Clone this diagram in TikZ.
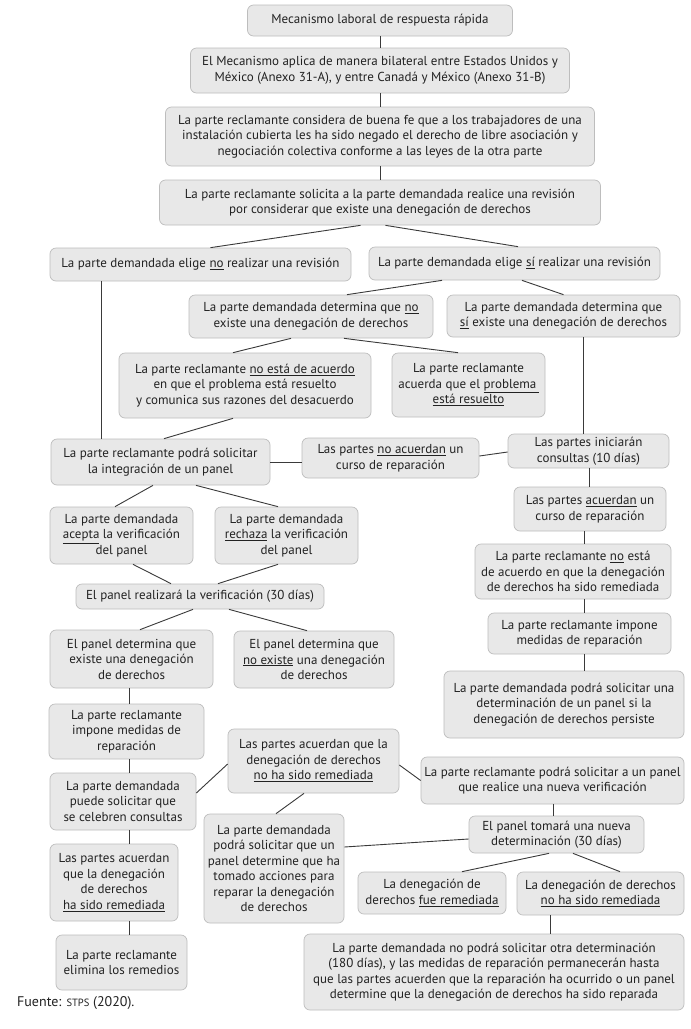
\documentclass[tikz,border=0pt]{standalone}
\usepackage{fontspec}
\setmainfont{PT Sans}
\definecolor{boxfill}{HTML}{E8E8E8}
\definecolor{boxdraw}{HTML}{BDBDBD}
\definecolor{lncol}{HTML}{3A3A3A}
\definecolor{txt}{HTML}{222222}
\newcommand{\ul}[1]{\underline{#1}}
\begin{document}
\begin{tikzpicture}[x=1pt,y=-1pt,
  bx/.style={draw=boxdraw, fill=boxfill, rounded corners=6pt, align=center, inner sep=0pt,
    font=\fontsize{13}{15.5}\selectfont, text=txt, line width=0.7pt},
  ln/.style={draw=lncol, line width=0.9pt}]
\useasboundingbox (0,0) rectangle (691,1029);
\fill[white] (0,0) rectangle (691,1029);

% top chain
\node[bx, minimum width=265pt, minimum height=31pt] (n1) at (380,20.5) {Mecanismo laboral de respuesta rápida};
\node[bx, minimum width=379pt, minimum height=45pt] (n2) at (380,70.5) {El Mecanismo aplica de manera bilateral entre Estados Unidos y\\México (Anexo 31-A), y entre Canadá y México (Anexo 31-B)};
\node[bx, minimum width=429pt, minimum height=59pt] (n3) at (380,136.5) {La parte reclamante considera de buena fe que a los trabajadores de una\\instalación cubierta les ha sido negado el derecho de libre asociación y\\negociación colectiva conforme a las leyes de la otra parte};
\node[bx, minimum width=441pt, minimum height=45pt] (n4) at (380,202.5) {La parte reclamante solicita a la parte demandada realice una revisión\\por considerar que existe una denegación de derechos};

\node[bx, minimum width=301pt, minimum height=33pt] (elno) at (200.5,264.5) {La parte demandada elige \ul{no} realizar una revisión};
\node[bx, minimum width=291pt, minimum height=33pt] (elsi) at (514.5,263.5) {La parte demandada elige \ul{sí} realizar una revisión};
\node[bx, minimum width=244pt, minimum height=43pt] (detno) at (311,316.5) {La parte demandada determina que \ul{no}\\existe una denegación de derechos};
\node[bx, minimum width=233pt, minimum height=42pt] (detsi) at (563.5,316) {La parte demandada determina que\\\ul{sí} existe una denegación de derechos};
\node[bx, minimum width=252pt, minimum height=65pt] (noacu) at (245,385.5) {La parte reclamante \ul{no está de acuerdo}\\en que el problema está resuelto\\y comunica sus razones del desacuerdo};
\node[bx, minimum width=153pt, minimum height=64pt] (resuelto) at (468.5,385) {La parte reclamante\\acuerda que el \ul{problema\,}\\\ul{está resuelto}};

\node[bx, minimum width=219pt, minimum height=46pt] (panel1) at (160.5,462) {La parte reclamante podrá solicitar\\la integración de un panel};
\node[bx, minimum width=177pt, minimum height=40pt] (noacuerdan) at (390.5,458) {Las partes \ul{no acuerdan} un\\curso de reparación};
\node[bx, minimum width=161pt, minimum height=34pt] (consultas) at (588.5,451) {Las partes iniciarán\\consultas (10 días)};

% right column
\node[bx, minimum width=152pt, minimum height=44pt] (acuerdan) at (590,509) {Las partes \ul{acuerdan} un\\curso de reparación};
\node[bx, minimum width=196pt, minimum height=55pt] (nodeacuerdo) at (573,571.5) {La parte reclamante \ul{no} está\\de acuerdo en que la denegación\\de derechos ha sido remediada};
\node[bx, minimum width=183pt, minimum height=41pt] (imponeR) at (579.5,633.5) {La parte reclamante impone\\medidas de reparación};
\node[bx, minimum width=240pt, minimum height=67pt] (solpanelR) at (564,704.5) {La parte demandada podrá solicitar una\\determinación de un panel si la\\denegación de derechos persiste};

% left column
\node[bx, minimum width=143pt, minimum height=57pt] (acepta) at (121.5,535.5) {La parte demandada\\\ul{acepta} la verificación\\del panel};
\node[bx, minimum width=143pt, minimum height=57pt] (rechaza) at (286.5,535.5) {La parte demandada\\\ul{rechaza} la verificación\\del panel};
\node[bx, minimum width=248pt, minimum height=25pt] (realizara) at (200,596.5) {El panel realizará la verificación (30 días)};
\node[bx, minimum width=163pt, minimum height=58pt] (existe) at (131.5,659) {El panel determina que\\existe una denegación\\de derechos};
\node[bx, minimum width=160pt, minimum height=57pt] (noexiste) at (314,659.5) {El panel determina que\\\ul{no existe} una denegación\\de derechos};
\node[bx, minimum width=155pt, minimum height=55pt] (imponeL) at (126.5,731.5) {La parte reclamante\\impone medidas de\\reparación};
\node[bx, minimum width=146pt, minimum height=57pt] (puede) at (123,801.5) {La parte demandada\\puede solicitar que\\se celebren consultas};
\node[bx, minimum width=128pt, minimum height=77pt] (hasido) at (114,882.5) {Las partes acuerdan\\que la denegación\\de derechos\\\ul{ha sido remediada}};
\node[bx, minimum width=131pt, minimum height=55pt] (elimina) at (121.5,962.5) {La parte reclamante\\elimina los remedios};

% lower middle / right
\node[bx, minimum width=171pt, minimum height=64pt] (noremL) at (313.5,761) {Las partes acuerdan que la\\denegación de derechos\\\ul{no ha sido remediada}};
\node[bx, minimum width=263pt, minimum height=47pt] (nuevaver) at (552.5,780.5) {La parte reclamante podrá solicitar a un panel\\que realice una nueva verificación};
\node[bx, minimum width=175pt, minimum height=37pt] (tomara) at (556.5,834.5) {El panel tomará una nueva\\determinación (30 días)};
\node[bx, minimum width=140pt, minimum height=109pt] (podrapanel) at (274,868.5) {La parte demandada\\podrá solicitar que un\\panel determine que ha\\tomado acciones para\\reparar la denegación\\de derechos};
\node[bx, minimum width=148pt, minimum height=42pt] (fue) at (432,893) {La denegación de\\derechos \ul{fue remediada}};
\node[bx, minimum width=167pt, minimum height=43pt] (noha) at (600.5,893.5) {La denegación de derechos\\\ul{no ha sido remediada}};
\node[bx, minimum width=380pt, minimum height=76pt] (final) at (494,972) {La parte demandada no podrá solicitar otra determinación\\(180 días), y las medidas de reparación permanecerán hasta\\que las partes acuerden que la reparación ha ocurrido o un panel\\determine que la denegación de derechos ha sido reparada};

\node[anchor=west, inner sep=0pt, font=\fontsize{14}{16}\selectfont, text=txt] (src) at (17,1003) {Fuente: {\fontsize{10.5}{12}\selectfont STPS} (2020).};

% helper coordinates for vertical runs
\coordinate (vA) at (101,0);
\coordinate (vB) at (583.5,0);
\coordinate (vC) at (589,0);
\coordinate (vD) at (584,0);
\coordinate (vL) at (129,0);
\coordinate (vE) at (553,0);
\coordinate (vF) at (550,0);

% connectors
\draw[ln] (n1) -- (n2);
\draw[ln] (n2) -- (n3);
\draw[ln] (n3) -- (n4);
\draw[ln] ([xshift=-19.5pt]n4.south) -- ([xshift=10pt]elno.north);
\draw[ln] ([xshift=5.5pt]n4.south) -- ([xshift=3.5pt]elsi.north);
\draw[ln] ([xshift=-72.5pt]elsi.south) -- ([xshift=36pt]detno.north);
\draw[ln] ([xshift=7.5pt]elsi.south) -- (detsi.north);
\draw[ln] ([xshift=-20pt]detno.south) -- ([xshift=-12pt]noacu.north);
\draw[ln] ([xshift=33pt]detno.south) -- ([xshift=-10.5pt]resuelto.north);
\draw[ln] ([xshift=-12pt]noacu.south) -- ([xshift=3.5pt]panel1.north);
\draw[ln] (elno.south -| vA) -- (panel1.north -| vA);
\draw[ln] (detsi.south -| vB) -- (consultas.north -| vB);
\draw[ln] (panel1.east) -- (panel1.east -| noacuerdan.west);
\draw[ln] ([yshift=2pt]noacuerdan.east) -- ([yshift=-1pt]consultas.west);
\draw[ln] (consultas.south -| vC) -- (acuerdan.north -| vC);
\draw[ln] (acuerdan.south -| vD) -- (nodeacuerdo.north -| vD);
\draw[ln] (nodeacuerdo.south -| vD) -- (imponeR.north -| vD);
\draw[ln] (imponeR.south -| vD) -- (solpanelR.north -| vD);
\draw[ln] ([xshift=-7.5pt]panel1.south) -- ([xshift=-6.5pt]acepta.north);
\draw[ln] ([xshift=35.5pt]panel1.south) -- ([xshift=-8.5pt]rechaza.north);
\draw[ln] ([xshift=11.5pt]acepta.south) -- ([xshift=-29pt]realizara.north);
\draw[ln] ([xshift=-8.5pt]rechaza.south) -- ([xshift=18pt]realizara.north);
\draw[ln] ([xshift=-7pt]realizara.south) -- ([xshift=8.5pt]existe.north);
\draw[ln] ([xshift=29pt]realizara.south) -- ([xshift=-7pt]noexiste.north);
\draw[ln] (existe.south -| vL) -- (imponeL.north -| vL);
\draw[ln] (imponeL.south -| vL) -- (puede.north -| vL);
\draw[ln] (puede.south -| vL) -- (hasido.north -| vL);
\draw[ln] (hasido.south -| vL) -- (elimina.north -| vL);
\draw[ln] ([yshift=8.5pt]puede.east) -- ([yshift=-3pt]noremL.west);
\draw[ln] ([yshift=-4pt]noremL.east) -- (nuevaver.west);
\draw[ln] ([xshift=-9.5pt]noremL.south) -- ([xshift=2pt]podrapanel.north);
\draw[ln] (nuevaver.south -| vE) -- (tomara.north -| vE);
\draw[ln] ([yshift=-4.5pt]tomara.west) -- ([yshift=21.5pt]podrapanel.east);
\draw[ln] ([xshift=-7.5pt]tomara.south) -- ([xshift=30pt]fue.north);
\draw[ln] ([xshift=16.5pt]tomara.south) -- ([xshift=19.5pt]noha.north);
\draw[ln] (noha.south -| vF) -- (final.north -| vF);
\end{tikzpicture}
\end{document}
